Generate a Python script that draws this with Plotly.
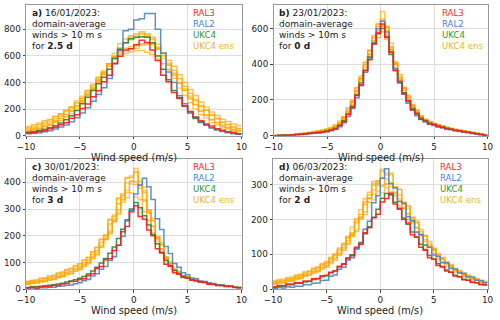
import numpy as np
import plotly.graph_objects as go

# ---------------- data (bin heights) ----------------
edges_a = np.linspace(-10, 10, 41)   # 0.5 m/s bins
edges_f = np.linspace(-10, 10, 51)   # 0.4 m/s bins

# Panel a) 16/01/2023
ral3_a = [20, 24, 31, 38, 52, 63, 82, 98, 132, 158, 204, 238, 292, 338, 405, 455, 545, 598, 645, 655,
          685, 718, 702, 645, 565, 455, 405, 325, 285, 225, 182, 138, 112, 88, 72, 53, 41, 29, 23, 15]
ral2_a = [15, 18, 22, 30, 38, 50, 65, 80, 105, 135, 170, 210, 260, 310, 360, 430, 540, 640, 790, 800,
          870, 880, 920, 920, 800, 620, 480, 400, 300, 240, 180, 140, 105, 80, 60, 45, 32, 22, 15, 10]
ukc4_a = [25, 30, 38, 48, 60, 75, 95, 120, 150, 190, 240, 290, 340, 390, 440, 500, 580, 650, 700, 730,
          740, 745, 740, 700, 600, 500, 420, 340, 280, 220, 170, 130, 100, 80, 60, 45, 35, 25, 18, 12]
ens_a = [
    [60, 72, 83, 102, 118, 142, 163, 192, 218, 262, 298, 342, 388, 442, 488, 542, 578, 612, 618, 632,
     638, 642, 628, 612, 578, 542, 498, 452, 398, 352, 298, 262, 218, 192, 158, 132, 103, 87, 68, 56],
    [40, 52, 58, 77, 88, 112, 133, 162, 188, 227, 263, 312, 358, 412, 468, 532, 598, 662, 698, 722,
     738, 762, 748, 722, 668, 602, 528, 462, 398, 342, 278, 232, 183, 152, 118, 97, 73, 60, 43, 36],
    [30, 41, 48, 64, 76, 97, 113, 142, 168, 207, 248, 302, 348, 402, 458, 522, 588, 652, 698, 742,
     768, 782, 768, 732, 658, 582, 498, 432, 358, 302, 248, 202, 158, 132, 98, 82, 60, 50, 34, 29],
    [50, 62, 70, 90, 103, 127, 148, 182, 208, 247, 283, 332, 378, 432, 478, 542, 598, 642, 658, 672,
     678, 692, 698, 692, 648, 602, 548, 492, 428, 372, 318, 272, 228, 192, 153, 127, 98, 82, 60, 50],
    [70, 82, 93, 112, 123, 147, 163, 192, 213, 247, 278, 322, 363, 422, 478, 542, 588, 622, 638, 652,
     658, 682, 688, 692, 658, 622, 568, 522, 458, 402, 348, 302, 253, 217, 178, 152, 123, 107, 88, 77],
    [35, 47, 53, 70, 83, 107, 128, 157, 183, 222, 258, 307, 353, 412, 468, 542, 618, 692, 728, 752,
     758, 772, 758, 742, 688, 622, 538, 472, 398, 342, 283, 237, 188, 157, 123, 102, 78, 64, 46, 40],
]

# Panel b) 23/01/2023
ral3_b = [0, 1, 2, 2, 4, 7, 8, 9, 13, 15, 16, 21, 23, 31, 38, 57, 78, 118, 158, 225,
          285, 365, 425, 515, 575, 625, 555, 465, 365, 305, 235, 195, 145, 125, 92,
          82, 66, 62, 50, 47, 38, 36, 29, 27, 21, 19, 13, 11, 6, 3]
ral2_b = [0, 1, 1, 2, 3, 5, 7, 9, 11, 13, 15, 18, 22, 27, 36, 50, 72, 108, 152, 212,
          280, 355, 435, 520, 600, 640, 580, 470, 375, 295, 232, 182, 142, 112, 90,
          76, 64, 57, 50, 43, 38, 33, 28, 24, 20, 16, 12, 9, 5, 2]
ukc4_b = [0, 1, 2, 3, 5, 7, 9, 11, 14, 17, 19, 22, 26, 32, 42, 58, 84, 120, 165, 228,
          295, 365, 440, 515, 570, 600, 550, 455, 365, 298, 240, 192, 152, 122, 98,
          83, 70, 62, 54, 47, 42, 36, 31, 27, 23, 19, 15, 11, 7, 3]
ens_b = [
    [1, 2, 3, 4, 6, 8, 11, 14, 17, 21, 25, 29, 34, 42, 55, 72, 106, 134, 198, 247,
     334, 392, 478, 532, 612, 642, 608, 492, 414, 322, 272, 203, 171, 126, 110,
     88, 75, 65, 57, 50, 44, 38, 33, 28, 24, 20, 16, 12, 8, 4],
    [0, 1, 2, 3, 4, 6, 8, 10, 13, 16, 19, 23, 28, 36, 48, 66, 88, 139, 173, 253,
     306, 399, 456, 560, 622, 695, 612, 518, 402, 342, 263, 221, 164, 141, 104,
     90, 76, 67, 59, 52, 45, 39, 34, 29, 25, 21, 17, 13, 8, 4],
    [0, 1, 2, 3, 5, 7, 9, 12, 15, 18, 22, 26, 31, 39, 52, 70, 104, 129, 189, 233,
     313, 367, 453, 512, 590, 612, 588, 482, 408, 318, 268, 204, 173, 130, 112,
     90, 77, 68, 60, 53, 46, 40, 35, 30, 26, 22, 17, 13, 9, 5],
    [1, 2, 3, 5, 7, 10, 13, 16, 20, 24, 28, 33, 39, 48, 62, 82, 106, 157, 193, 270,
     322, 408, 457, 528, 548, 582, 538, 478, 382, 327, 252, 214, 160, 137, 102,
     89, 76, 67, 59, 52, 46, 40, 35, 30, 26, 22, 18, 14, 9, 5],
    [0, 1, 1, 2, 3, 5, 7, 9, 11, 14, 17, 20, 25, 32, 44, 62, 96, 124, 185, 232,
     320, 382, 478, 547, 628, 652, 608, 482, 403, 313, 261, 196, 163, 120, 104,
     84, 71, 62, 54, 47, 41, 36, 31, 26, 22, 18, 14, 10, 6, 3],
    [1, 1, 2, 4, 6, 8, 10, 13, 16, 20, 24, 28, 33, 40, 53, 72, 96, 148, 186, 266,
     322, 413, 472, 553, 582, 618, 567, 498, 397, 342, 266, 226, 170, 145, 108,
     93, 79, 69, 61, 54, 47, 41, 36, 31, 27, 23, 19, 14, 9, 5],
]

# Panel c) 30/01/2023
ral3_c = [6, 8, 5, 9, 11, 10, 15, 14, 20, 22, 29, 30, 37, 39, 52, 58, 78, 85, 110, 114,
          145, 165, 215, 235, 290, 312, 272, 262, 222, 200, 152, 136, 94, 86, 62,
          56, 44, 42, 34, 32, 27, 26, 19, 19, 14, 14, 10, 11, 7, 6]
ral2_c = [3, 5, 4, 6, 6, 8, 8, 11, 12, 15, 16, 21, 24, 32, 37, 50, 58, 75, 85, 108,
          122, 165, 198, 255, 296, 356, 390, 415, 384, 336, 264, 224, 160, 134, 96,
          82, 62, 54, 42, 39, 31, 29, 24, 22, 17, 16, 12, 11, 8, 7]
ukc4_c = [7, 9, 10, 11, 13, 15, 17, 20, 23, 27, 31, 36, 41, 48, 57, 68, 82, 98, 115, 135,
          158, 190, 225, 260, 300, 325, 305, 275, 240, 205, 170, 138, 108, 88, 70,
          58, 49, 42, 37, 32, 28, 25, 21, 18, 16, 14, 12, 10, 8, 6]
ens_c = [
    [22, 25, 26, 31, 33, 39, 42, 49, 53, 61, 66, 75, 81, 93, 104, 122, 138, 165, 195, 218,
     262, 296, 345, 370, 405, 402, 392, 335, 295, 236, 198, 152, 122, 97, 74,
     63, 51, 45, 37, 34, 28, 26, 21, 20, 15, 15, 11, 11, 7, 7],
    [28, 32, 33, 39, 41, 48, 51, 59, 63, 72, 77, 87, 94, 108, 118, 139, 156, 185, 200, 258,
     272, 338, 352, 415, 418, 452, 405, 382, 298, 266, 194, 172, 116, 102, 76,
     66, 51, 46, 38, 35, 29, 27, 21, 20, 16, 16, 12, 12, 8, 8],
    [18, 21, 22, 27, 28, 34, 36, 43, 46, 54, 58, 67, 73, 85, 95, 114, 129, 156, 185, 208,
     252, 281, 325, 342, 360, 345, 335, 290, 258, 212, 180, 141, 114, 92, 69,
     61, 48, 44, 35, 33, 27, 25, 20, 19, 14, 14, 10, 10, 7, 6],
    [25, 28, 29, 34, 36, 42, 45, 52, 56, 64, 69, 79, 86, 99, 110, 130, 145, 175, 188, 244,
     256, 320, 336, 398, 403, 437, 388, 368, 289, 259, 190, 167, 114, 100, 74,
     65, 50, 46, 37, 35, 29, 27, 21, 20, 16, 16, 12, 12, 8, 8],
    [20, 23, 24, 29, 30, 36, 38, 45, 49, 57, 61, 70, 76, 88, 98, 117, 131, 159, 188, 212,
     254, 286, 334, 362, 394, 392, 379, 331, 288, 235, 195, 149, 119, 96, 72,
     63, 49, 45, 36, 34, 28, 26, 21, 20, 15, 15, 11, 11, 7, 7],
    [30, 34, 35, 41, 43, 50, 53, 61, 65, 74, 79, 89, 96, 110, 120, 141, 157, 188, 204, 262,
     278, 342, 358, 418, 424, 441, 389, 361, 284, 256, 188, 166, 112, 99, 73,
     64, 50, 46, 37, 35, 28, 26, 21, 20, 15, 15, 11, 11, 7, 7],
]

# Panel d) 06/03/2023
ral3_d = [7, 11, 10, 15, 15, 19, 19, 24, 24, 30, 31, 39, 40, 49, 52, 66, 72, 90, 96, 120,
          130, 162, 176, 205, 215, 250, 260, 275, 244, 232, 200, 190, 156, 150, 120,
          112, 90, 86, 68, 64, 52, 49, 38, 36, 27, 26, 20, 19, 14, 12]
ral2_d = [3, 5, 4, 7, 6, 9, 9, 13, 13, 17, 18, 25, 26, 37, 41, 57, 63, 84, 90, 115,
          128, 172, 195, 248, 268, 318, 345, 302, 290, 252, 246, 208, 196, 164, 156,
          126, 120, 98, 94, 76, 75, 60, 58, 47, 46, 35, 35, 26, 25, 19]
ukc4_d = [6, 9, 9, 13, 13, 17, 17, 21, 22, 28, 30, 36, 39, 47, 53, 64, 73, 87, 99, 117,
          134, 159, 179, 206, 229, 261, 274, 271, 249, 229, 204, 186, 164, 149, 129,
          114, 97, 86, 73, 65, 55, 49, 40, 36, 29, 26, 20, 19, 14, 13]
ens_d = [
    [18, 21, 21, 26, 27, 32, 34, 40, 43, 50, 54, 62, 67, 78, 87, 101, 114, 133, 158, 170,
     206, 222, 262, 272, 302, 298, 316, 294, 291, 259, 250, 217, 205, 175, 165,
     137, 129, 111, 95, 85, 72, 64, 54, 48, 40, 36, 29, 27, 21, 19],
    [22, 25, 26, 31, 32, 38, 40, 47, 50, 58, 62, 71, 77, 89, 99, 115, 129, 150, 162, 203,
     214, 259, 270, 309, 310, 338, 327, 328, 292, 286, 247, 240, 202, 196, 160,
     155, 124, 116, 100, 89, 76, 68, 57, 51, 43, 39, 32, 29, 23, 21],
    [14, 17, 17, 22, 23, 28, 30, 36, 39, 46, 50, 58, 63, 74, 83, 97, 110, 129, 154, 165,
     201, 214, 249, 256, 281, 276, 291, 269, 268, 239, 232, 200, 191, 162, 154,
     127, 120, 103, 88, 79, 67, 60, 50, 45, 37, 34, 27, 25, 19, 17],
    [20, 23, 24, 29, 30, 36, 38, 44, 47, 55, 59, 68, 74, 86, 96, 111, 125, 146, 158, 198,
     207, 250, 260, 298, 297, 320, 302, 306, 274, 270, 234, 230, 194, 190, 155,
     152, 121, 114, 98, 88, 75, 67, 56, 51, 42, 38, 31, 28, 22, 20],
    [25, 28, 29, 34, 35, 41, 43, 50, 53, 61, 65, 74, 80, 92, 102, 118, 132, 152, 178, 190,
     228, 242, 278, 284, 306, 294, 301, 279, 278, 250, 244, 214, 207, 177, 171,
     142, 137, 118, 102, 92, 79, 71, 60, 54, 45, 41, 34, 31, 25, 23],
    [16, 19, 19, 24, 25, 31, 33, 39, 42, 49, 53, 62, 68, 80, 90, 105, 119, 140, 152, 193,
     204, 248, 260, 303, 310, 343, 332, 333, 294, 286, 244, 236, 197, 192, 156,
     153, 121, 113, 97, 87, 74, 66, 56, 50, 41, 37, 30, 28, 22, 20],
]

panel_labels = ["a)", "b)", "c)", "d)"]
panel_dates = ["16/01/2023:", "23/01/2023:", "30/01/2023:", "06/03/2023:"]
panel_winds = ["winds &gt; 10 m s", "winds &gt; 10m s", "winds &gt; 10 m s", "winds &gt; 10m s"]
panel_days = ["2.5 d", "0 d", "3 d", "2 d"]
legend_names = ["RAL3", "RAL2", "UKC4", "UKC4 ens"]
y_ticks = [[0, 200, 400, 600, 800], [0, 200, 400, 600], [0, 100, 200, 300, 400], [0, 100, 200, 300]]
y_tops = [980, 729, 486, 372]
x_ticks = [-10, -5, 0, 5, 10]
x_title = "Wind speed (m/s)"

# ---------------- styling ----------------
C_RAL3 = "#ff1a1a"
C_RAL2 = "#4f86c6"
C_UKC4 = "#2a8a2a"
C_ENS = "#ffa500"
T_COLS = ["#ff2a2a", "#4f7fd5", "#2e9a2e", "#e8b530"]
FONT = "DejaVu Sans"
TXT = "#222222"

panels = [
    (edges_a, ral3_a, ral2_a, ukc4_a, ens_a),
    (edges_f, ral3_b, ral2_b, ukc4_b, ens_b),
    (edges_f, ral3_c, ral2_c, ukc4_c, ens_c),
    (edges_f, ral3_d, ral2_d, ukc4_d, ens_d),
]
xdoms = [[0.052, 0.483], [0.547, 0.975], [0.052, 0.483], [0.546, 0.975]]
ydoms = [[0.576, 0.983], [0.576, 0.983], [0.096, 0.502], [0.096, 0.502]]
leg_shift = [165, 166, 165, 165]          # px from left edge of panel
line_offsets = [7.5, 18.5, 29.5, 40.5]    # px below panel top

fig = go.Figure()


def step(edges, vals):
    return list(edges), list(vals) + [vals[-1]]


for k, (edges, r3, r2, uk, ens) in enumerate(panels):
    xa = "x" if k == 0 else f"x{k+1}"
    ya = "y" if k == 0 else f"y{k+1}"
    for m in ens:
        xs, ys = step(edges, m)
        fig.add_trace(go.Scatter(x=xs, y=ys, mode="lines", line=dict(shape="hv", color=C_ENS, width=1.4),
                                 opacity=0.65, xaxis=xa, yaxis=ya, showlegend=False, hoverinfo="skip"))
    for vals, col in [(uk, C_UKC4), (r2, C_RAL2), (r3, C_RAL3)]:
        xs, ys = step(edges, vals)
        fig.add_trace(go.Scatter(x=xs, y=ys, mode="lines", line=dict(shape="hv", color=col, width=1.5),
                                 opacity=0.9, xaxis=xa, yaxis=ya, showlegend=False, hoverinfo="skip"))

    axis_common = dict(showline=True, mirror=True, linecolor="#999999", linewidth=1,
                       showgrid=True, gridcolor="#dddddd", gridwidth=1, zeroline=False,
                       ticks="outside", ticklen=2.5, tickcolor="#444444", automargin=False,
                       tickfont=dict(family=FONT, size=8.8, color=TXT))
    xkey = "xaxis" if k == 0 else f"xaxis{k+1}"
    ykey = "yaxis" if k == 0 else f"yaxis{k+1}"
    fig.update_layout(**{
        xkey: dict(domain=xdoms[k], anchor=ya, range=[-10, 10], tickvals=x_ticks, **axis_common),
        ykey: dict(domain=ydoms[k], anchor=xa, range=[0, y_tops[k]], tickvals=y_ticks[k], **axis_common),
    })

    xd = xa + " domain"
    yd = ya + " domain"
    # x-axis title
    fig.add_annotation(xref=xd, yref=yd, x=0.5, y=0, yshift=-21.5, xanchor="center", yanchor="middle",
                       showarrow=False, text=x_title, font=dict(family=FONT, size=9.8, color=TXT))
    # panel description, one line at a time
    lines = [f"<b>{panel_labels[k]}</b> {panel_dates[k]}", "domain-average", panel_winds[k],
             f"for <b>{panel_days[k]}</b>"]
    for j, t in enumerate(lines):
        fig.add_annotation(xref=xd, yref=yd, x=0, xshift=3.5, y=1, yshift=-line_offsets[j],
                           xanchor="left", yanchor="middle", showarrow=False, text=t,
                           font=dict(family=FONT, size=9, color=TXT))
    # coloured legend text
    for j, t in enumerate(legend_names):
        fig.add_annotation(xref=xd, yref=yd, x=0, xshift=leg_shift[k], y=1, yshift=-line_offsets[j],
                           xanchor="left", yanchor="middle", showarrow=False, text=t,
                           font=dict(family=FONT, size=8.6, color=T_COLS[j]))

fig.update_layout(width=500, height=320, margin=dict(l=0, r=0, t=0, b=0),
                  paper_bgcolor="white", plot_bgcolor="white",
                  font=dict(family=FONT, color=TXT))
fig.write_html("out.html", config={"displayModeBar": False},
               post_script="document.body.style.margin='0px';document.body.style.padding='0px';")
